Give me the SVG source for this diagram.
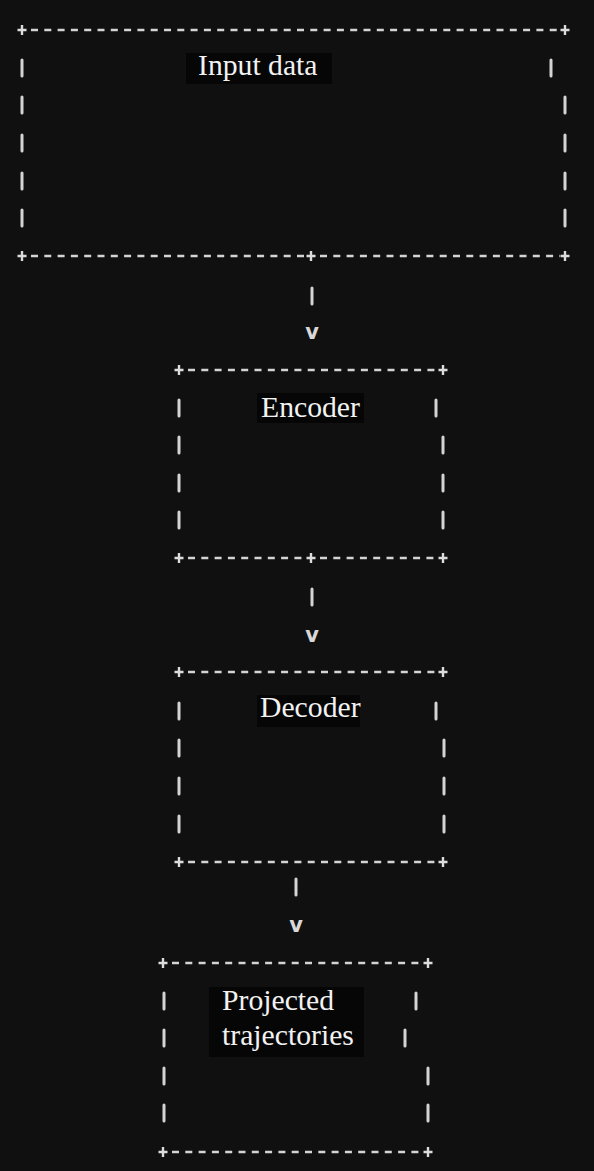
<svg xmlns="http://www.w3.org/2000/svg" xmlns:xlink="http://www.w3.org/1999/xlink" width="594" height="1171" viewBox="0 0 594 1171">
<style>
.dash{stroke:#d4d4d4;stroke-width:2.6;stroke-dasharray:7 6.3;fill:none}
.cr{stroke:#dcdcdc;stroke-width:2.4;fill:none}
.bar{stroke:#d4d4d4;stroke-width:3;fill:none;stroke-linecap:round}
.lbl{font-family:"Liberation Serif","Times New Roman",serif;font-size:29.7px;fill:#f2f2f2}
.tbg{fill:#060606}
.arr{font-family:"DejaVu Sans",sans-serif;font-size:21px;font-weight:bold;fill:#d8d8d8;text-anchor:middle}
</style>
<defs>
<path id="plus" class="cr" d="M-4.5 0H4.5M0 -5V5"/>
<path id="vb" class="bar" d="M0 -8V8"/>
</defs>
<rect width="594" height="1171" fill="#101010"/>

<g id="node-input">
<line class="dash" x1="31" y1="30" x2="560" y2="30"/>
<line class="dash" x1="31" y1="256" x2="306" y2="256"/>
<line class="dash" x1="320" y1="256" x2="560" y2="256"/>
<use xlink:href="#plus" x="22" y="30"/>
<use xlink:href="#plus" x="565" y="30"/>
<use xlink:href="#plus" x="22" y="256"/>
<use xlink:href="#plus" x="311" y="256"/>
<use xlink:href="#plus" x="565" y="256"/>
<use xlink:href="#vb" x="22" y="68"/>
<use xlink:href="#vb" x="22" y="105"/>
<use xlink:href="#vb" x="22" y="143"/>
<use xlink:href="#vb" x="22" y="181"/>
<use xlink:href="#vb" x="22" y="218"/>
<use xlink:href="#vb" x="551" y="68"/>
<use xlink:href="#vb" x="565" y="105"/>
<use xlink:href="#vb" x="565" y="143"/>
<use xlink:href="#vb" x="565" y="181"/>
<use xlink:href="#vb" x="565" y="218"/>
<rect class="tbg" x="186" y="53" width="146" height="31"/>
<text class="lbl" x="198" y="75">Input data</text>
</g>

<g id="node-encoder">
<line class="dash" x1="188" y1="370" x2="438" y2="370"/>
<line class="dash" x1="188" y1="558" x2="306" y2="558"/>
<line class="dash" x1="320" y1="558" x2="438" y2="558"/>
<use xlink:href="#plus" x="179" y="370"/>
<use xlink:href="#plus" x="443" y="370"/>
<use xlink:href="#plus" x="179" y="558"/>
<use xlink:href="#plus" x="311" y="558"/>
<use xlink:href="#plus" x="443" y="558"/>
<use xlink:href="#vb" x="179" y="408"/>
<use xlink:href="#vb" x="179" y="445"/>
<use xlink:href="#vb" x="179" y="483"/>
<use xlink:href="#vb" x="179" y="520"/>
<use xlink:href="#vb" x="436" y="408"/>
<use xlink:href="#vb" x="443" y="445"/>
<use xlink:href="#vb" x="443" y="483"/>
<use xlink:href="#vb" x="443" y="520"/>
<rect class="tbg" x="257" y="393" width="107" height="30"/>
<text class="lbl" x="261" y="417">Encoder</text>
</g>

<g id="node-decoder">
<line class="dash" x1="188" y1="672" x2="438" y2="672"/>
<line class="dash" x1="188" y1="862" x2="438" y2="862"/>
<use xlink:href="#plus" x="179" y="672"/>
<use xlink:href="#plus" x="443" y="672"/>
<use xlink:href="#plus" x="179" y="862"/>
<use xlink:href="#plus" x="443" y="862"/>
<use xlink:href="#vb" x="179" y="711"/>
<use xlink:href="#vb" x="179" y="748"/>
<use xlink:href="#vb" x="179" y="786"/>
<use xlink:href="#vb" x="179" y="824"/>
<use xlink:href="#vb" x="436" y="711"/>
<use xlink:href="#vb" x="444" y="748"/>
<use xlink:href="#vb" x="444" y="786"/>
<use xlink:href="#vb" x="444" y="824"/>
<rect class="tbg" x="257" y="695" width="103" height="32"/>
<text class="lbl" x="260" y="717">Decoder</text>
</g>

<g id="node-projected">
<line class="dash" x1="172" y1="963" x2="423" y2="963"/>
<line class="dash" x1="172" y1="1152" x2="423" y2="1152"/>
<use xlink:href="#plus" x="163" y="963"/>
<use xlink:href="#plus" x="428" y="963"/>
<use xlink:href="#plus" x="163" y="1152"/>
<use xlink:href="#plus" x="428" y="1152"/>
<use xlink:href="#vb" x="164" y="1001"/>
<use xlink:href="#vb" x="164" y="1038"/>
<use xlink:href="#vb" x="164" y="1076"/>
<use xlink:href="#vb" x="164" y="1113"/>
<use xlink:href="#vb" x="416" y="1001"/>
<use xlink:href="#vb" x="405" y="1038"/>
<use xlink:href="#vb" x="428" y="1076"/>
<use xlink:href="#vb" x="428" y="1113"/>
<rect class="tbg" x="209" y="987" width="155" height="70"/>
<text class="lbl" x="222" y="1010">Projected</text>
<text class="lbl" x="222" y="1045">trajectories</text>
</g>

<g id="connectors">
<use xlink:href="#vb" x="312" y="296"/>
<text class="arr" x="312" y="339">v</text>
<use xlink:href="#vb" x="312" y="597"/>
<text class="arr" x="312" y="642">v</text>
<use xlink:href="#vb" x="296" y="887"/>
<text class="arr" x="296" y="932">v</text>
</g>
</svg>
